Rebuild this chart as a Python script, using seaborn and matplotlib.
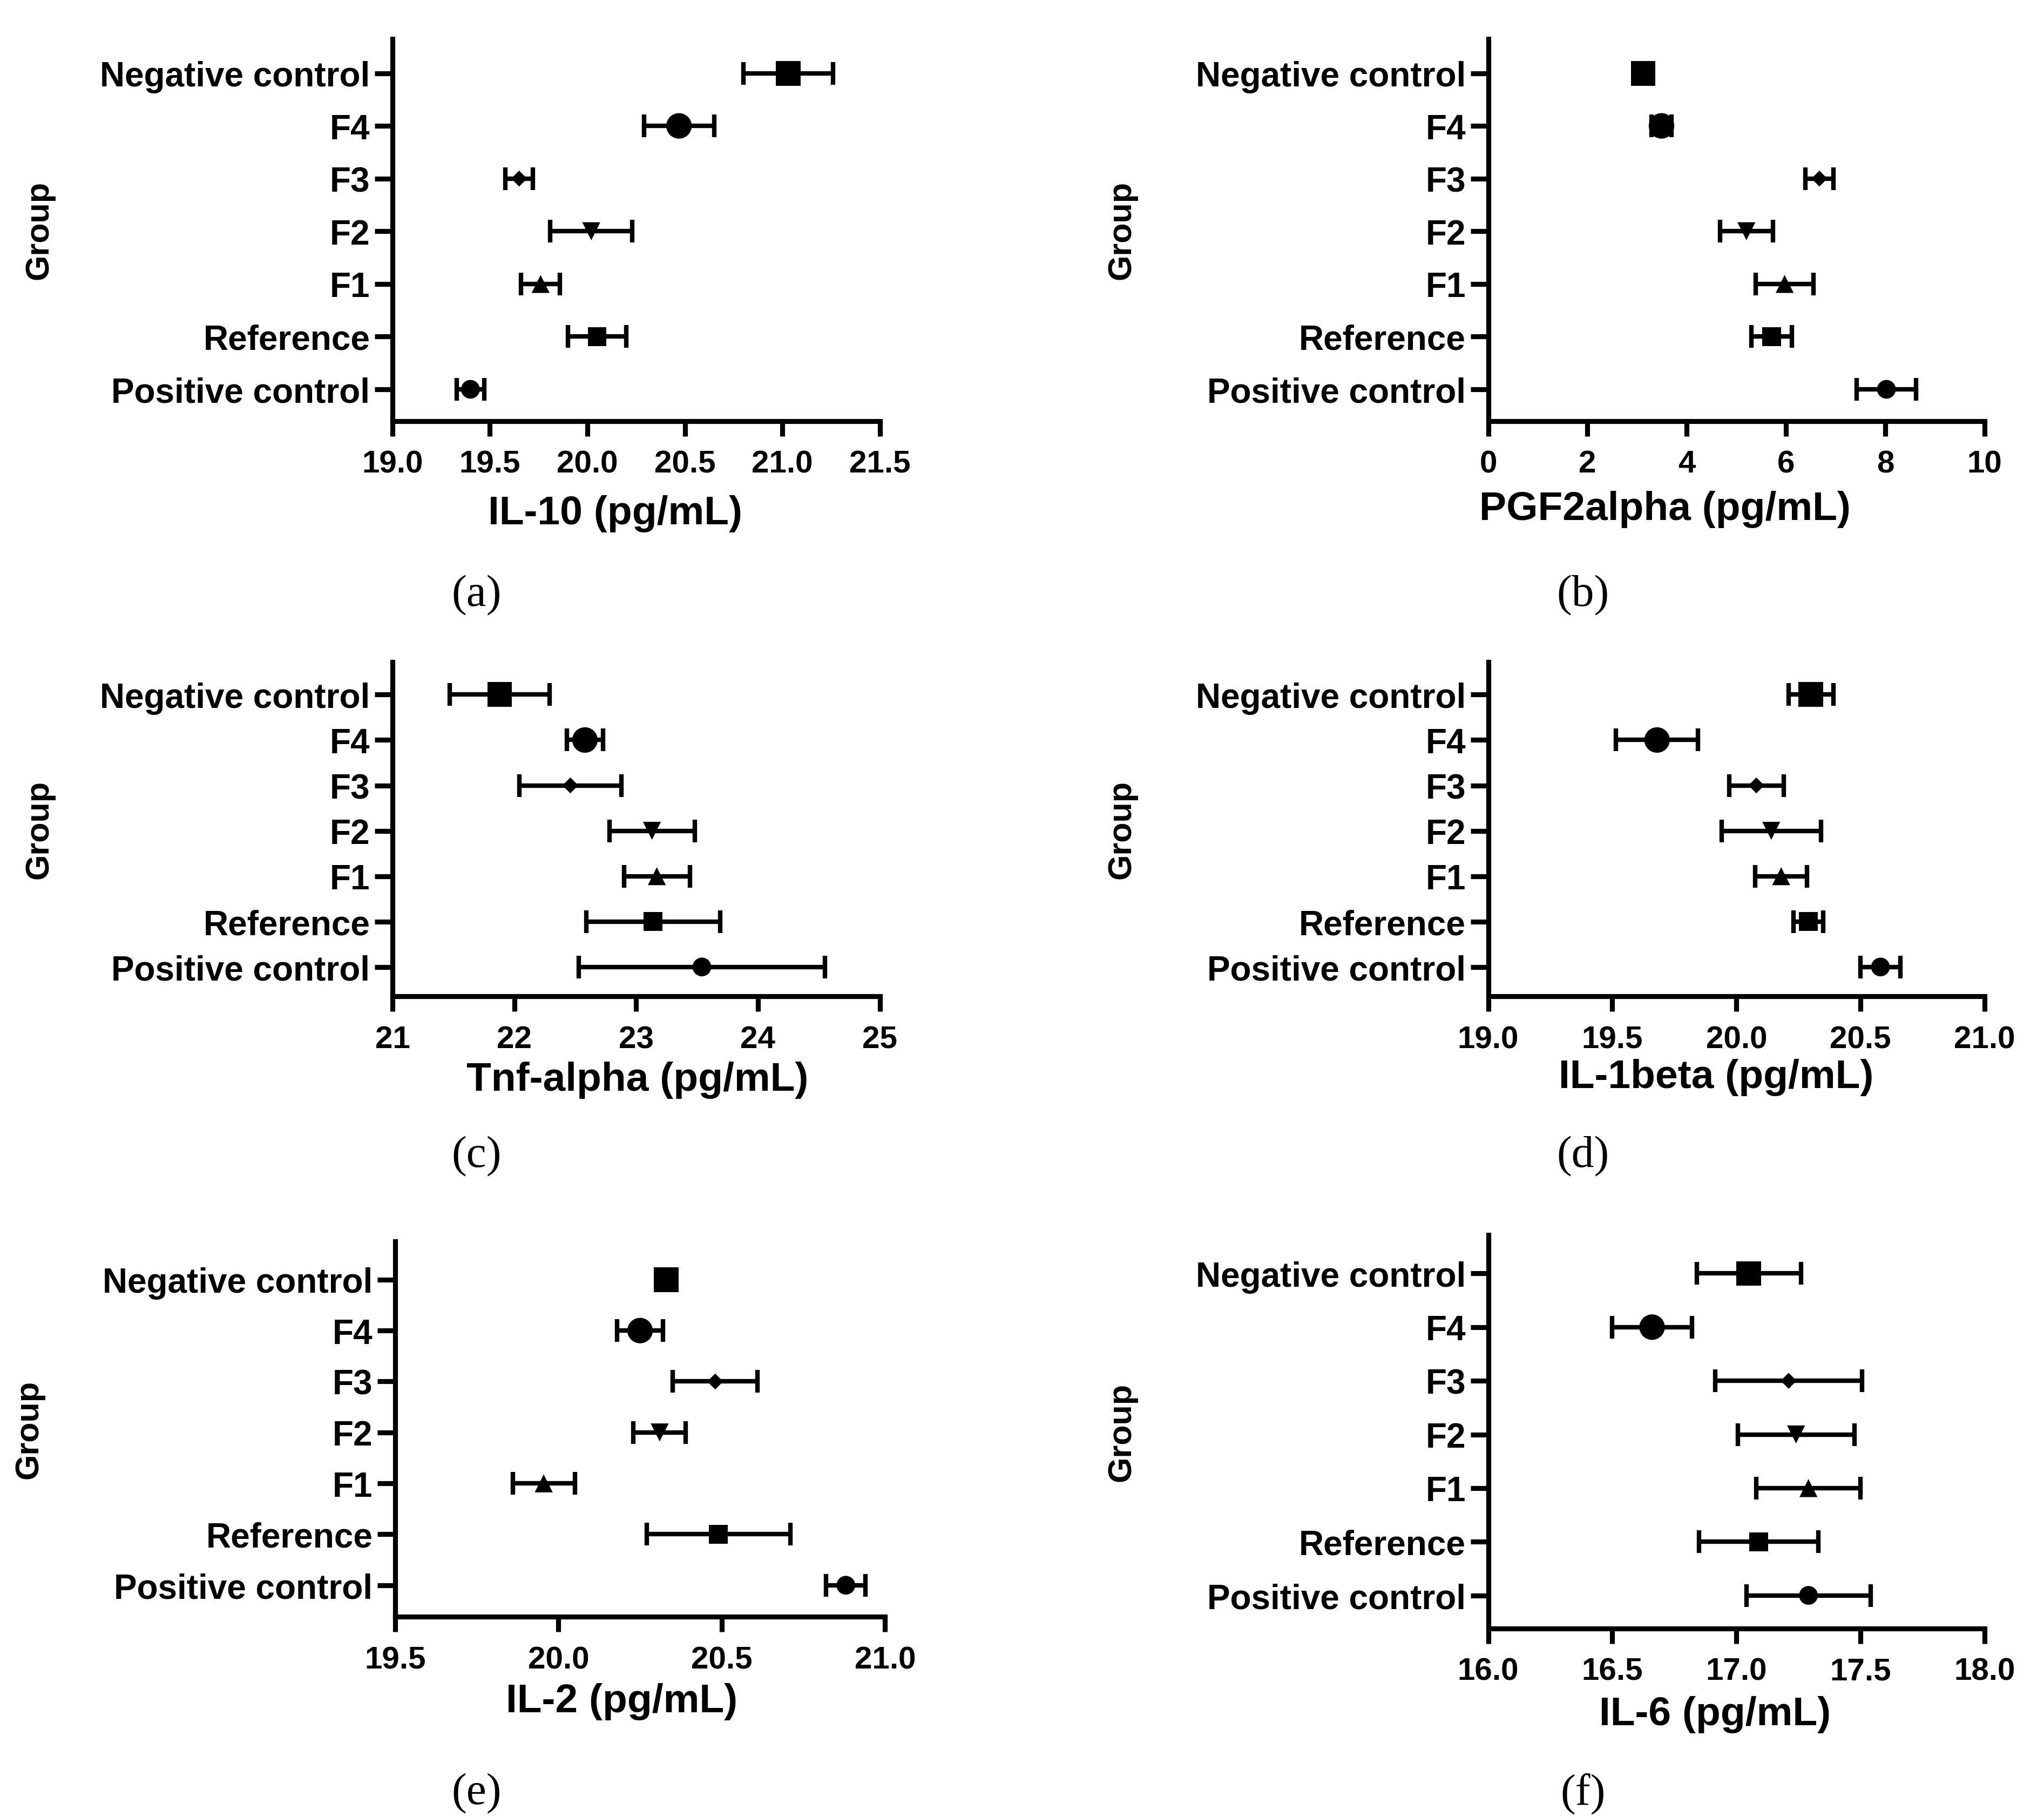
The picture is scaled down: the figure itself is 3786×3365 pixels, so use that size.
import numpy as np
import pandas as pd
import matplotlib
matplotlib.use("Agg")
import matplotlib.pyplot as plt
import seaborn as sns

# ---------------- data ----------------
groups = ["Negative control", "F4", "F3", "F2", "F1", "Reference", "Positive control"]

il10_mean = [21.03, 20.47, 19.65, 20.02, 19.76, 20.05, 19.40]
il10_err = [0.23, 0.18, 0.07, 0.21, 0.10, 0.15, 0.07]

pgf_mean = [3.12, 3.49, 6.67, 5.20, 5.97, 5.71, 8.02]
pgf_err = [0.15, 0.20, 0.28, 0.53, 0.58, 0.41, 0.60]

tnf_mean = [21.88, 22.58, 22.46, 23.13, 23.17, 23.14, 23.54]
tnf_err = [0.41, 0.15, 0.42, 0.35, 0.27, 0.55, 1.01]

il1b_mean = [20.30, 19.68, 20.08, 20.14, 20.18, 20.29, 20.58]
il1b_err = [0.09, 0.165, 0.11, 0.20, 0.105, 0.06, 0.08]

il2_mean = [20.33, 20.25, 20.48, 20.31, 19.955, 20.49, 20.88]
il2_err = [0.02, 0.07, 0.13, 0.08, 0.095, 0.22, 0.06]

il6_mean = [17.05, 16.66, 17.21, 17.24, 17.29, 17.09, 17.29]
il6_err = [0.21, 0.16, 0.295, 0.235, 0.21, 0.24, 0.25]

xlabels = ["IL-10 (pg/mL)", "PGF2alpha (pg/mL)", "Tnf-alpha (pg/mL)",
           "IL-1beta (pg/mL)", "IL-2 (pg/mL)", "IL-6 (pg/mL)"]
panel_letters = ["(a)", "(b)", "(c)", "(d)", "(e)", "(f)"]

xticks_a = [19.0, 19.5, 20.0, 20.5, 21.0, 21.5]
xticks_b = [0, 2, 4, 6, 8, 10]
xticks_c = [21, 22, 23, 24, 25]
xticks_d = [19.0, 19.5, 20.0, 20.5, 21.0]
xticks_e = [19.5, 20.0, 20.5, 21.0]
xticks_f = [16.0, 16.5, 17.0, 17.5, 18.0]

tick_fmt = ["{:.1f}", "{:d}", "{:d}", "{:.1f}", "{:.1f}", "{:.1f}"]

# ---------------- style ----------------
sns.set_theme(style="ticks")
plt.rcParams["font.family"] = ["Liberation Sans", "DejaVu Sans"]
plt.rcParams["font.weight"] = "bold"

W, H = 3786, 3366
DPI = 200
fig = plt.figure(figsize=(W / DPI, H / DPI), dpi=DPI)
fig.patch.set_facecolor("white")

# reference display frame (1552 x 1380)
DW, DH = 1552.0, 1380.0
# (left, right, top, bottom) in display px
frames = [
    (298, 668, 30, 320),
    (1130, 1507, 30, 320),
    (298, 668, 503, 757),
    (1130, 1507, 503, 757),
    (300, 672, 943, 1228),
    (1130, 1507, 938, 1237),
]
gaps = [(0.65, 0.60), (0.65, 0.60), (0.72, 0.65), (0.72, 0.65), (0.75, 0.62), (0.72, 0.62)]
group_x = [30, 852, 30, 852, 22, 852]
xlab_pos = [(467, 390), (1264, 387), (484, 820), (1303, 818), (472, 1292), (1302, 1302)]
letter_pos = [(362, 452), (1202, 452), (362, 878), (1202, 878), (362, 1362), (1202, 1362)]

marker_map = {"Negative control": "s", "F4": "o", "F3": "D", "F2": "v",
              "F1": "^", "Reference": "s", "Positive control": "o"}
size_map = {"Negative control": 16.5 ** 2, "F4": 17 ** 2, "F3": 7.5 ** 2, "F2": 12 ** 2,
            "F1": 12 ** 2, "Reference": 12.5 ** 2, "Positive control": 12.5 ** 2}

means = [il10_mean, pgf_mean, tnf_mean, il1b_mean, il2_mean, il6_mean]
errs = [il10_err, pgf_err, tnf_err, il1b_err, il2_err, il6_err]
xticks_all = [xticks_a, xticks_b, xticks_c, xticks_d, xticks_e, xticks_f]

LW = 3.3
for i in range(6):
    l, r, t, b = frames[i]
    left = l / DW
    width = (r - l) / DW
    bottom = 1 - b / DH
    height = (b - t) / DH
    ax = fig.add_axes([left, bottom, width, height])
    df = pd.DataFrame({"group": groups, "value": means[i], "err": errs[i]})

    ax.errorbar(x=df["value"], y=df["group"], xerr=df["err"], fmt="none",
                ecolor="black", elinewidth=3.0, capsize=7.5, capthick=3.0, zorder=2)
    sns.scatterplot(data=df, x="value", y="group", style="group", markers=marker_map,
                    size="group", sizes=size_map, color="black", edgecolor="black",
                    linewidth=0, legend=False, ax=ax, zorder=3)

    ticks = xticks_all[i]
    ax.set_xticks(ticks)
    ax.set_xticklabels([tick_fmt[i].format(v) for v in ticks])
    ax.set_xlim(ticks[0], ticks[-1])
    tg, bg = gaps[i]
    ax.set_ylim(len(groups) - 1 + bg, -tg)

    for s in ["top", "right"]:
        ax.spines[s].set_visible(False)
    for s in ["left", "bottom"]:
        ax.spines[s].set_linewidth(LW)
        ax.spines[s].set_color("black")
        ax.spines[s].set_capstyle("projecting")
    ax.tick_params(axis="y", length=12, width=LW, pad=3, labelsize=23, colors="black")
    ax.tick_params(axis="x", length=10, width=LW, pad=9, labelsize=21, colors="black")
    for lab in ax.get_xticklabels() + ax.get_yticklabels():
        lab.set_fontweight("bold")

    ax.set_ylabel("Group", fontsize=22, fontweight="bold", color="black")
    gx = (group_x[i] - l) / (r - l)
    ax.yaxis.set_label_coords(gx, 0.5)
    ax.yaxis.label.set_va("center")

    ax.set_xlabel(xlabels[i], fontsize=27, fontweight="bold", color="black")
    xc, yc = xlab_pos[i]
    ax.xaxis.set_label_coords((xc - l) / (r - l), (b - yc) / (b - t))
    ax.xaxis.label.set_va("center")
    ax.set_facecolor("white")

    lx, ly = letter_pos[i]
    fig.text(lx / DW, 1 - ly / DH, panel_letters[i], ha="center", va="center",
             fontsize=30, fontweight="normal", family=["Liberation Serif", "DejaVu Serif"],
             color="black")

fig.savefig("out.png", dpi=DPI, facecolor="white")
